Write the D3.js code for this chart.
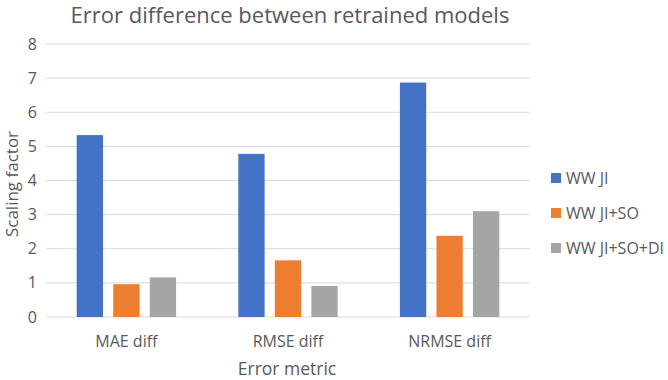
<!DOCTYPE html>
<html>
<head>
<meta charset="utf-8">
<script src="https://cdn.jsdelivr.net/npm/d3@7"></script>
<style>
  body { margin: 0; background: #fff; }
  text { font-family: "Open Sans", sans-serif; fill: #595959; }
</style>
</head>
<body>
<div id="chart"></div>
<script>
const categories = ["MAE diff", "RMSE diff", "NRMSE diff"];
const series = ["WW JI", "WW JI+SO", "WW JI+SO+DI"];
const wwJi = [5.33, 4.78, 6.87];
const wwJiSo = [0.96, 1.66, 2.38];
const wwJiSoDi = [1.16, 0.91, 3.1];
const yTicks = [0, 1, 2, 3, 4, 5, 6, 7, 8];
const colors = ["#4472C4", "#ED7D31", "#A5A5A5"];

const values = [wwJi, wwJiSo, wwJiSoDi];
const width = 668, height = 380;
const plot = { left: 46, right: 530, top: 44, bottom: 317 };

const svg = d3.select("#chart").append("svg")
    .attr("width", width)
    .attr("height", height);

const yScale = d3.scaleLinear()
    .domain([0, 8])
    .range([plot.bottom, plot.top]);

const xScale = d3.scaleBand()
    .domain(categories)
    .range([plot.left, plot.right])
    .paddingInner(0.385)
    .paddingOuter(0.19);

const inner = d3.scaleBand()
    .domain(series)
    .range([0, xScale.bandwidth()])
    .paddingInner(0.28);

// gridlines
svg.append("g")
    .selectAll("line")
    .data(yTicks)
    .join("line")
    .attr("x1", plot.left)
    .attr("x2", plot.right)
    .attr("y1", d => yScale(d))
    .attr("y2", d => yScale(d))
    .attr("stroke", "#D9D9D9")
    .attr("stroke-width", 1);

// y labels
svg.append("g")
    .selectAll("text")
    .data(yTicks)
    .join("text")
    .attr("x", 37)
    .attr("y", d => yScale(d))
    .attr("dy", "0.35em")
    .attr("text-anchor", "end")
    .style("font-size", "16px")
    .text(d => d);

// bars
const groups = svg.append("g")
    .selectAll("g")
    .data(categories)
    .join("g")
    .attr("transform", d => `translate(${xScale(d)},0)`);

groups.selectAll("rect")
    .data((c, i) => series.map((s, j) => ({ s, v: values[j][i], j })))
    .join("rect")
    .attr("x", d => inner(d.s))
    .attr("y", d => yScale(d.v))
    .attr("width", inner.bandwidth())
    .attr("height", d => yScale(0) - yScale(d.v))
    .attr("fill", d => colors[d.j]);

// x labels
svg.append("g")
    .selectAll("text")
    .data(categories)
    .join("text")
    .attr("x", d => xScale(d) + xScale.bandwidth() / 2)
    .attr("y", 341)
    .attr("dy", "0.35em")
    .attr("text-anchor", "middle")
    .style("font-size", "16px")
    .text(d => d);

// title
svg.append("text")
    .attr("x", 290)
    .attr("y", 15)
    .attr("dy", "0.35em")
    .attr("text-anchor", "middle")
    .style("font-size", "22px")
    .text("Error difference between retrained models");

// axis titles
svg.append("text")
    .attr("x", 287)
    .attr("y", 369)
    .attr("dy", "0.35em")
    .attr("text-anchor", "middle")
    .style("font-size", "17.5px")
    .text("Error metric");

svg.append("text")
    .attr("transform", "translate(12,184) rotate(-90)")
    .attr("dy", "0.35em")
    .attr("text-anchor", "middle")
    .style("font-size", "17px")
    .text("Scaling factor");

// legend
const legend = svg.append("g")
    .selectAll("g")
    .data(series)
    .join("g")
    .attr("transform", (d, i) => `translate(551,${178 + i * 35})`);

legend.append("rect")
    .attr("x", 0)
    .attr("y", -5)
    .attr("width", 10)
    .attr("height", 10)
    .attr("fill", (d, i) => colors[i]);

legend.append("text")
    .attr("x", 15)
    .attr("dy", "0.35em")
    .style("font-size", "16px")
    .text(d => d);
</script>
</body>
</html>
